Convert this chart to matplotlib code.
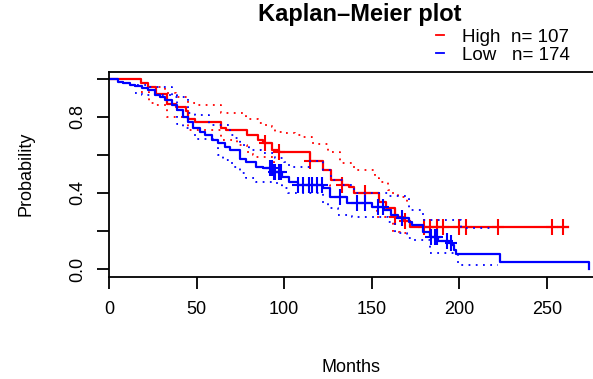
import numpy as np
import matplotlib
matplotlib.use("Agg")
import matplotlib.pyplot as plt
from matplotlib.lines import Line2D

plt.rcParams['font.family'] = ['Liberation Sans', 'DejaVu Sans']

# Kaplan-Meier steps (months, survival)
t_high = [0, 18, 22, 27, 33, 38, 44, 45, 49, 64, 67, 79, 85, 88, 93, 97, 115,
          122, 127, 133, 137, 140, 154, 158, 163, 168, 172, 262]
s_high = [1.0, 0.98, 0.96, 0.92, 0.87, 0.85, 0.83, 0.79, 0.775, 0.74, 0.73, 0.705,
          0.68, 0.665, 0.625, 0.615, 0.57, 0.52, 0.47, 0.44, 0.43, 0.40, 0.35,
          0.32, 0.275, 0.25, 0.22, 0.22]
cens_high = [89, 97, 115, 133, 146, 163, 169, 180, 183, 187, 190.5, 200, 204,
             222, 253, 259]

t_low = [0, 5, 8, 12, 15, 19, 22, 26, 29, 32, 36, 39, 42, 45, 48, 52, 55, 59, 62,
         66, 69, 75, 78, 84, 88, 94, 99, 103, 108, 122, 126, 136, 150, 157, 161,
         165, 171, 173, 179, 183, 188, 194, 196, 197, 198, 223, 274]
s_low = [1.0, 0.984, 0.98, 0.968, 0.963, 0.95, 0.94, 0.915, 0.905, 0.89, 0.863,
         0.837, 0.80, 0.774, 0.742, 0.721, 0.705, 0.679, 0.663, 0.642, 0.626, 0.58,
         0.563, 0.537, 0.532, 0.51, 0.484, 0.458, 0.442, 0.426, 0.379, 0.347, 0.326,
         0.31, 0.284, 0.268, 0.247, 0.232, 0.195, 0.168, 0.15, 0.137, 0.126, 0.10,
         0.079, 0.037, 0.0]
cens_low = [92, 93, 94, 95, 97, 98, 108, 111, 114, 116, 118.5, 121.5, 132, 141.5,
            146, 153.5, 156.5, 167, 184, 186, 187, 193, 195]

# confidence bands (dotted)
hi_up_t = [18, 22, 32, 38, 45, 50, 64, 78, 85, 89, 93, 95, 99, 106, 110, 116, 119,
           125, 132, 140, 152, 154, 159, 161, 165, 170, 172]
hi_up_s = [0.98, 0.96, 0.925, 0.905, 0.874, 0.863, 0.82, 0.79, 0.77, 0.76, 0.745,
           0.72, 0.715, 0.705, 0.695, 0.665, 0.655, 0.615, 0.558, 0.52, 0.479, 0.458,
           0.416, 0.40, 0.379, 0.353, 0.353]
hi_lo_t = [18, 23, 27, 33, 45, 64, 73, 79, 82, 84, 94, 99, 103, 108, 126, 136, 150,
           153, 162, 166, 172]
hi_lo_s = [0.93, 0.874, 0.863, 0.80, 0.73, 0.68, 0.653, 0.616, 0.60, 0.59, 0.51,
           0.484, 0.458, 0.442, 0.379, 0.347, 0.326, 0.274, 0.195, 0.19, 0.19]

lo_up_t = [16, 23, 36, 45, 49, 57, 69, 72, 75, 77, 80, 87, 95, 100, 103, 115, 122,
           127, 133, 140, 159, 171, 179, 201, 219]
lo_up_s = [0.968, 0.958, 0.905, 0.821, 0.811, 0.758, 0.705, 0.689, 0.668, 0.642,
           0.626, 0.611, 0.584, 0.563, 0.537, 0.57, 0.52, 0.47, 0.44, 0.40, 0.384,
           0.31, 0.258, 0.216, 0.216]
lo_lo_t = [15, 19, 39, 42, 49, 62, 65, 68, 71, 75, 78, 84, 96, 99, 102, 122, 125,
           131, 139, 159, 163, 170, 173, 183, 199, 222]
lo_lo_s = [0.926, 0.916, 0.763, 0.742, 0.684, 0.60, 0.574, 0.558, 0.537, 0.505,
           0.479, 0.458, 0.442, 0.426, 0.40, 0.347, 0.321, 0.284, 0.274, 0.247,
           0.189, 0.163, 0.153, 0.084, 0.021, 0.021]


def surv_at(t, s, x):
    idx = np.searchsorted(t, x, side='right') - 1
    return np.asarray(s)[idx]


fig = plt.figure(figsize=(5.93, 3.79), dpi=100)
ax = fig.add_axes([109 / 593, 1 - 277 / 379, 484 / 593, 205.5 / 379])

dots = (0, (1, 3))
# red group first, blue drawn on top
ax.step(hi_up_t, hi_up_s, where='post', color='red', lw=1.3, ls=dots)
ax.step(hi_lo_t, hi_lo_s, where='post', color='red', lw=1.3, ls=dots)
ax.step(t_high, s_high, where='post', color='red', lw=1.6)
ax.plot(cens_high, surv_at(t_high, s_high, cens_high), ls='none', marker='|',
        color='red', ms=11, mew=1.5)
ax.plot(cens_high, surv_at(t_high, s_high, cens_high), ls='none', marker='_',
        color='red', ms=9, mew=1.5)

ax.step(lo_up_t, lo_up_s, where='post', color='blue', lw=1.3, ls=dots)
ax.step(lo_lo_t, lo_lo_s, where='post', color='blue', lw=1.3, ls=dots)
ax.step(t_low, s_low, where='post', color='blue', lw=1.6)
ax.plot(cens_low, surv_at(t_low, s_low, cens_low), ls='none', marker='|',
        color='blue', ms=11, mew=1.5)
ax.plot(cens_low, surv_at(t_low, s_low, cens_low), ls='none', marker='_',
        color='blue', ms=9, mew=1.5)

ax.set_xlim(0, 276.3)
ax.set_ylim(-0.042, 1.039)
ax.spines['right'].set_visible(False)
for sp in ['left', 'top', 'bottom']:
    ax.spines[sp].set_linewidth(1.3)

ax.set_xticks([0, 50, 100, 150, 200, 250])
ax.set_yticks([0, 0.2, 0.4, 0.6, 0.8, 1.0])
ax.set_yticklabels(['0.0', '', '0.4', '', '0.8', ''], rotation=90, va='center')
ax.tick_params(length=8.5, width=1.3, labelsize=13, pad=9)
ax.tick_params(axis='y', pad=8)

ax.set_xlabel('Months', fontsize=13, labelpad=29)
ax.set_ylabel('Probability', fontsize=13, labelpad=25)

fig.text(360 / 593, 1 - 15 / 379, 'Kaplan\u2013Meier plot', fontsize=17,
         fontweight='bold', ha='center', va='center')

handles = [Line2D([], [], color='red', lw=1.3), Line2D([], [], color='blue', lw=1.3)]
fig.legend(handles, ['High  n= 107', 'Low   n= 174'], loc='center left',
           bbox_to_anchor=(436 / 593, 1 - 46 / 379), frameon=False, fontsize=13.5,
           handlelength=0.4, handletextpad=1.0, labelspacing=0.05, borderpad=0,
           borderaxespad=0)

fig.savefig('out.png', dpi=100)
